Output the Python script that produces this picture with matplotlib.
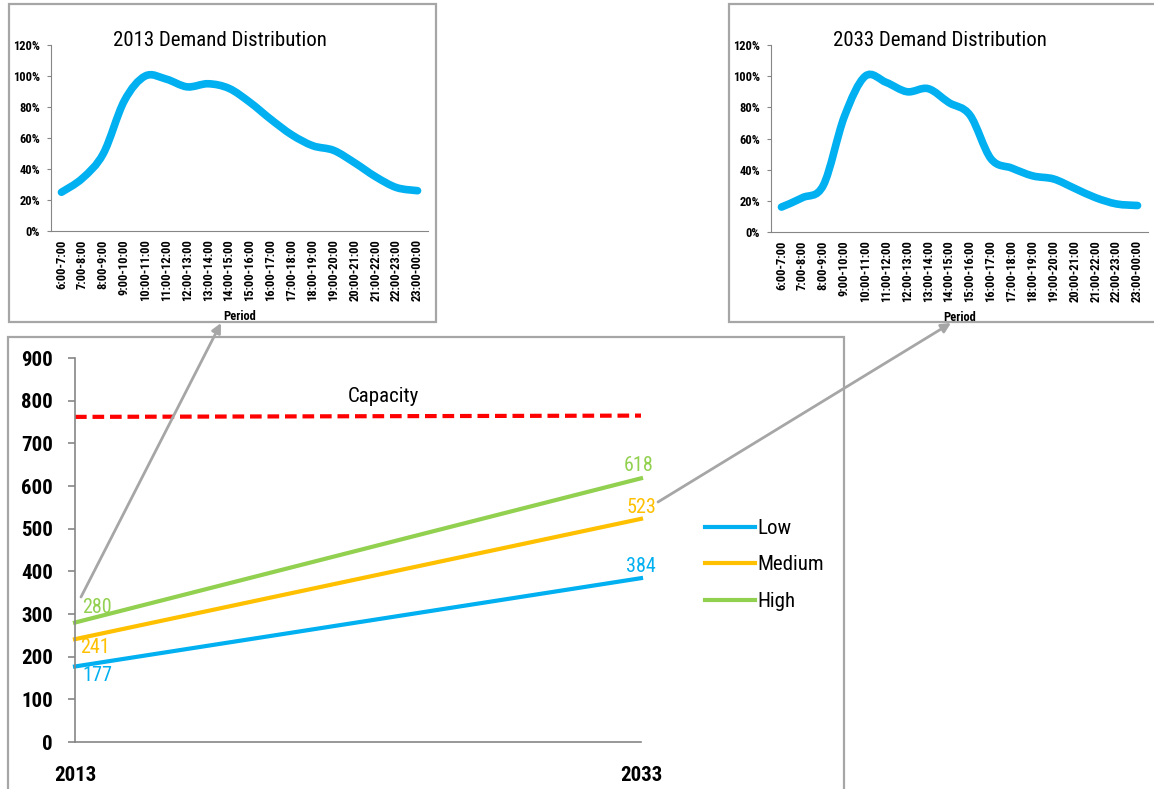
import matplotlib
matplotlib.use("Agg")
import matplotlib.pyplot as plt
import matplotlib.ticker as tkr
from matplotlib.path import Path
from matplotlib.patches import PathPatch, Rectangle, FancyArrowPatch
import numpy as np

plt.rcParams['font.family'] = ['Roboto Condensed', 'DejaVu Sans']

# main chart data
years = ["2013", "2033"]
low = [177, 384]
medium = [241, 523]
high = [280, 618]
capacity = [762, 765]

# hourly demand profiles (share of peak)
periods = ["6:00-7:00", "7:00-8:00", "8:00-9:00", "9:00-10:00", "10:00-11:00",
           "11:00-12:00", "12:00-13:00", "13:00-14:00", "14:00-15:00", "15:00-16:00",
           "16:00-17:00", "17:00-18:00", "18:00-19:00", "19:00-20:00", "20:00-21:00",
           "21:00-22:00", "22:00-23:00", "23:00-00:00"]
demand_2013 = [0.25, 0.34, 0.50, 0.84, 1.00, 0.98, 0.93, 0.95, 0.92, 0.83,
               0.72, 0.62, 0.55, 0.52, 0.44, 0.35, 0.28, 0.26]
demand_2033 = [0.16, 0.22, 0.30, 0.74, 1.00, 0.96, 0.90, 0.92, 0.83, 0.75,
               0.47, 0.41, 0.36, 0.34, 0.28, 0.22, 0.18, 0.17]

BLUE = '#00B0F0'
ORANGE = '#FFC000'
GREEN = '#92D050'
GRAY = '#A6A6A6'
AXGRAY = '#868686'

W, H = 1154, 789
fig = plt.figure(figsize=(W / 100, H / 100), dpi=100)


def px(x0, y0, x1, y1):
  # pixel box (top-left origin) -> figure fraction rect
  return [x0 / W, 1 - y1 / H, (x1 - x0) / W, (y1 - y0) / H]


def fpt(x, y):
  return (x / W, 1 - y / H)


def box(x0, y0, x1, y1, z):
  r = Rectangle(fpt(x0, y1), (x1 - x0) / W, (y1 - y0) / H, transform=fig.transFigure,
                facecolor='white', edgecolor=GRAY, lw=1.6, zorder=z)
  fig.add_artist(r)


def smooth_path(xs, ys):
  # excel style smoothed line as bezier segments through the points
  pts = np.column_stack([xs, ys]).astype(float)
  n = len(pts)
  verts = [pts[0]]
  codes = [Path.MOVETO]
  for i in range(n - 1):
    p0 = pts[i - 1] if i > 0 else pts[i]
    p1, p2 = pts[i], pts[i + 1]
    p3 = pts[i + 2] if i + 2 < n else pts[i + 1]
    verts += [p1 + (p2 - p0) / 6, p2 - (p3 - p1) / 6, p2]
    codes += [Path.CURVE4] * 3
  return Path(verts, codes)


# main frame
box(8, 337, 844, 820, 0.5)

# arrows linking to the insets
for a, b in [((81, 597), (221, 323)), ((658, 502), (951, 323))]:
  arr = FancyArrowPatch(fpt(*a), fpt(*b), transform=fig.transFigure, arrowstyle='-|>',
                        mutation_scale=14, color=GRAY, lw=2, shrinkA=0, shrinkB=0, zorder=2)
  fig.add_artist(arr)

# main chart
ax = fig.add_axes(px(75, 358, 641, 742))
ax.set_zorder(1)
ax.patch.set_alpha(0)
x = np.arange(len(years))
ax.plot(x, capacity, color='red', lw=3, ls=(0, (2.8, 1.4)), clip_on=False)
hl = ax.plot(x, low, color=BLUE, lw=3, label='Low', clip_on=False)[0]
hm = ax.plot(x, medium, color=ORANGE, lw=3, label='Medium', clip_on=False)[0]
hh = ax.plot(x, high, color=GREEN, lw=3, label='High', clip_on=False)[0]

lab_kw = dict(textcoords='offset points', fontsize=14.5, va='center')
ax.annotate(str(high[0]), (0, high[0]), xytext=(5, 11), ha='left', color=GREEN, **lab_kw)
ax.annotate(str(medium[0]), (0, medium[0]), xytext=(4, -6), ha='left', color=ORANGE, **lab_kw)
ax.annotate(str(low[0]), (0, low[0]), xytext=(5, -6.5), ha='left', color=BLUE, **lab_kw)
ax.annotate(str(high[1]), (1, high[1]), xytext=(-2, 9.5), ha='center', color=GREEN, **lab_kw)
ax.annotate(str(medium[1]), (1, medium[1]), xytext=(0, 8), ha='center', color=ORANGE, **lab_kw)
ax.annotate(str(low[1]), (1, low[1]), xytext=(0, 8.5), ha='center', color=BLUE, **lab_kw)

ax.set_xlim(0, 1)
ax.set_ylim(0, 900)
ax.set_yticks(range(0, 1000, 100))
ax.set_xticks(x, years)
for s in ['top', 'right']:
  ax.spines[s].set_visible(False)
for s in ['left', 'bottom']:
  ax.spines[s].set_color(AXGRAY)
  ax.spines[s].set_linewidth(1.2)
ax.tick_params(axis='y', length=5, color=AXGRAY, width=1.2, labelsize=15, pad=11)
ax.tick_params(axis='x', length=0, labelsize=15, pad=17)
for t in ax.get_xticklabels() + ax.get_yticklabels():
  t.set_fontweight('bold')

fig.text(*fpt(383, 397), "Capacity", fontsize=15, ha='center', va='center')

ax.legend(handles=[hl, hm, hh], loc='center left', bbox_to_anchor=fpt(705, 565),
          bbox_transform=fig.transFigure, frameon=False, borderpad=0, borderaxespad=0,
          handlelength=2.4, handletextpad=0.1, labelspacing=0.85, fontsize=15)


def demand_inset(frame, axbox, title_xy, title, values):
  box(*frame, 3)
  iax = fig.add_axes(px(*axbox))
  iax.set_zorder(4)
  iax.patch.set_alpha(0)
  xs = np.arange(len(values))
  iax.add_patch(PathPatch(smooth_path(xs, values), facecolor='none', edgecolor=BLUE,
                          lw=5.5, capstyle='round'))
  iax.set_xlim(-0.5, len(periods) - 0.5)
  iax.set_ylim(0, 1.2)
  iax.set_yticks(np.arange(0, 1.21, 0.2))
  iax.yaxis.set_major_formatter(tkr.PercentFormatter(1.0, decimals=0))
  iax.set_xticks(xs, periods, rotation=90)
  for s in ['top', 'right']:
    iax.spines[s].set_visible(False)
  for s in ['left', 'bottom']:
    iax.spines[s].set_color(AXGRAY)
  iax.tick_params(axis='y', length=3, color=AXGRAY, labelsize=9, pad=5)
  iax.tick_params(axis='x', length=0, labelsize=9, pad=6)
  for t in iax.get_xticklabels() + iax.get_yticklabels():
    t.set_fontweight('bold')
  iax.set_xlabel("Period", fontsize=9, fontweight='bold')
  iax.xaxis.set_label_coords(0.5, -0.425)
  fig.text(*fpt(*title_xy), title, fontsize=15, ha='center', va='center', zorder=5)


demand_inset((9, 4, 436, 322), (51, 45, 428, 231), (220, 40), "2013 Demand Distribution", demand_2013)
demand_inset((729, 4, 1170, 322), (771, 45, 1148, 232), (940, 40), "2033 Demand Distribution", demand_2033)

fig.savefig("out.png", dpi=100)
